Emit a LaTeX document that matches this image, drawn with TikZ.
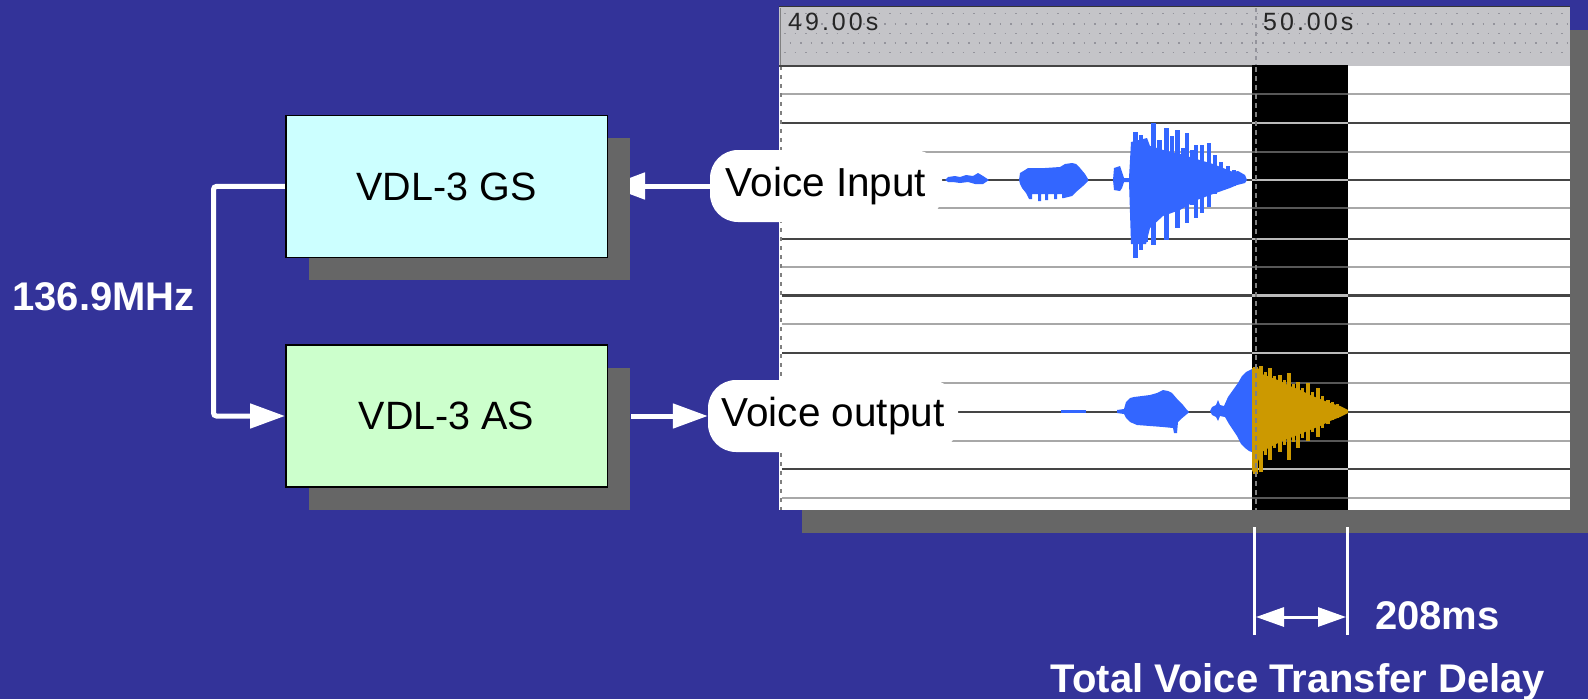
\documentclass[tikz,border=0pt]{standalone}
\usepackage{fontspec}
\setmainfont{Liberation Sans}
\usetikzlibrary{arrows.meta,shadows}
\definecolor{bgblue}{HTML}{333399}
\definecolor{shgray}{HTML}{666666}
\definecolor{gsfill}{HTML}{CCFFFF}
\definecolor{asfill}{HTML}{CCFFCC}
\definecolor{hdrgray}{HTML}{C4C4C8}
\definecolor{hdrdot}{HTML}{94949C}
\definecolor{wblue}{HTML}{3366FF}
\definecolor{worange}{HTML}{CC9900}
\definecolor{ldark}{HTML}{454545}
\definecolor{llight}{HTML}{A8A8A8}
\definecolor{idark}{HTML}{BABABA}
\definecolor{ilight}{HTML}{575757}
\pgfdeclarelayer{bg}
\pgfsetlayers{bg,main}
\tikzset{
  blk/.style={draw=black, line width=1.5pt, minimum width=321.5pt, minimum height=142pt,
    inner sep=0pt, font=\fontsize{39.5}{45}\selectfont,
    general shadow={fill=shgray, shadow xshift=23pt, shadow yshift=-23pt}},
  pill/.style={fill=white, rounded corners=28pt, minimum height=72pt, inner sep=0pt,
    font=\fontsize{40.5}{45}\selectfont},
  wline/.style={draw=white, line width=5pt},
  bighead/.style={-{Triangle[length=35pt,width=24pt]}},
  lbl/.style={text=white, inner sep=0pt, font=\fontsize{40}{45}\selectfont\bfseries},
  tick/.style={inner sep=0pt, text=black!85, font=\fontsize{25}{28}\selectfont\addfontfeatures{LetterSpace=12}},
  dim/.style={draw=white, line width=3pt},
  hdots/.style={draw=hdrdot, line width=1.5pt, dash pattern=on 1.5pt off 9pt},
}
\begin{document}
\begin{tikzpicture}[x=1pt,y=-1pt]
\useasboundingbox (0,0) rectangle (1588,699);

% ---------- screenshot panel ----------
\fill[shgray] (802,30) rectangle (1588,533);
\fill[white] (779,66) rectangle (1570,510);
\fill[hdrgray] (779,7) rectangle (1570,66);
\foreach \yy/\ph in {13.5/0,24/5,33.5/0,43/5,52.5/0}
  \draw[hdots, dash phase=\ph] (784,\yy) -- (1570,\yy);
\draw[black!80, line width=1.5pt] (779,6.5) -- (1570,6.5);
\draw[hdrdot, line width=1.5pt, dash pattern=on 4pt off 4pt] (1256,8) -- (1256,65);
\draw[gray, line width=2pt, dash pattern=on 4pt off 5pt] (780.5,66) -- (780.5,510);
\draw[gray, line width=1.5pt] (780.5,8) -- (780.5,65);

\foreach \yy in {94.3,151.5,208.3,266.7,324,383,440.5,498.3}
  \draw[llight, line width=2pt] (782,\yy) -- (1570,\yy);
\foreach \yy in {122.7,180,238.5,352.7,412,469}
  \draw[ldark, line width=2pt] (782,\yy) -- (1570,\yy);
\draw[ldark, line width=3pt] (782,295) -- (1570,295);
\draw[ldark, line width=2pt] (779,66) -- (1252,66);

% selection bar
\fill[black] (1252,65) rectangle (1348,510);
\foreach \yy in {94.3,151.5,208.3,266.7,324,383,440.5,498.3}
  \draw[ilight, line width=2pt] (1252,\yy) -- (1348,\yy);
\foreach \yy in {122.7,180,238.5,352.7,412,469}
  \draw[idark, line width=2pt] (1252,\yy) -- (1348,\yy);
\draw[idark, line width=3pt] (1252,295) -- (1348,295);

% track 1 waveform
\fill[wblue] (945,180) -- (948,177) -- (955,176) -- (960,177) -- (966,175) -- (973,176) -- (978,173)
  -- (983,176) -- (989,180) -- (983,184) -- (975,184) -- (968,182) -- (960,183) -- (953,182) -- (948,182) -- cycle;
\fill[wblue] (1019,180) -- (1020,173) -- (1025,170) -- (1028,168) -- (1045,168) -- (1060,167) -- (1065,164)
  -- (1072,163) -- (1076,164) -- (1080,168) -- (1085,174) -- (1088,179) -- (1088,181) -- (1083,186)
  -- (1076,192) -- (1072,196) -- (1064,198) -- (1062,198) -- (1062,194) -- (1057,194) -- (1057,199)
  -- (1054,199) -- (1054,194) -- (1048,194) -- (1048,200) -- (1045,200) -- (1045,194) -- (1041,194)
  -- (1041,201) -- (1038,201) -- (1038,194) -- (1032,194) -- (1032,199) -- (1029,199) -- (1026,193)
  -- (1022,188) -- (1020,184) -- cycle;
\fill[wblue] (1113,180) -- (1114,168) -- (1120,166) -- (1122,172) -- (1124,178) -- (1129,178) -- (1131,142)
  -- (1147,138) -- (1150,146) -- (1157,148) -- (1163,150) -- (1180,154) -- (1193,158) -- (1213,164)
  -- (1223,168) -- (1233,172) -- (1238,171) -- (1245,175) -- (1247,180) -- (1245,183) -- (1237,185)
  -- (1230,188) -- (1213,194) -- (1197,200) -- (1180,210) -- (1163,216) -- (1150,228) -- (1146,244)
  -- (1131,244) -- (1129,182) -- (1124,182) -- (1122,188) -- (1120,191) -- (1114,190) -- cycle;
\foreach \xa/\ya/\xb/\yb in {1133/132/1138/258, 1139/135/1143/250, 1144/140/1148/242, 1151/123/1156/245,
  1157/140/1162/215, 1164/128/1169/240, 1170/136/1174/212, 1175/130/1180/228, 1181/148/1185/206,
  1185/133/1189/223, 1190/150/1194/205, 1194/145/1198/218, 1200/145/1204/213, 1207/143/1211/207,
  1213/155/1217/194, 1219/162/1223/190, 1226/166/1230/188, 1232/170/1236/186}
  \fill[wblue] (\xa,\ya) rectangle (\xb,\yb);

% track 2 waveform
\fill[wblue] (1061,409.5) rectangle (1086,412.5);
\fill[wblue] (1117,410) -- (1124,409) -- (1126,402) -- (1130,398) -- (1134,397) -- (1150,395) -- (1157,393)
  -- (1163,390) -- (1168,391) -- (1172,393) -- (1178,400) -- (1183,405) -- (1187,410) -- (1189,412)
  -- (1187,414) -- (1181,419) -- (1178,422) -- (1177,433) -- (1174,433) -- (1173,428) -- (1163,427)
  -- (1150,426) -- (1137,425) -- (1130,422) -- (1126,418) -- (1124,414) -- (1117,413) -- cycle;
\fill[wblue] (1210,411) -- (1212,407) -- (1216,405) -- (1218,400) -- (1220,405) -- (1224,406) -- (1228,397)
  -- (1233,390) -- (1238,383) -- (1242,376) -- (1246,372) -- (1250,370) -- (1252,369) -- (1252,452)
  -- (1249,451) -- (1245,448) -- (1241,444) -- (1237,436) -- (1233,430) -- (1229,424) -- (1225,417)
  -- (1220,416) -- (1218,421) -- (1216,417) -- (1212,415) -- cycle;
\fill[worange] (1252,368) -- (1258,368) -- (1262,374) -- (1270,377) -- (1280,381) -- (1290,386) -- (1300,390)
  -- (1310,395) -- (1320,399) -- (1330,403) -- (1340,406) -- (1348,410) -- (1348,413) -- (1340,417)
  -- (1330,421) -- (1320,426) -- (1310,430) -- (1300,434) -- (1290,438) -- (1280,442) -- (1270,447)
  -- (1262,452) -- (1256,466) -- (1252,472) -- cycle;
\foreach \xa/\ya/\xb/\yb in {1253/367/1258/474, 1259/366/1263/472, 1264/372/1267/455, 1268/368/1272/460,
  1273/376/1276/448, 1278/375/1282/452, 1283/380/1286/445, 1287/373/1291/460, 1292/384/1295/442,
  1296/382/1300/448, 1301/388/1304/438, 1306/383/1310/441, 1311/392/1314/432, 1316/388/1320/437,
  1321/396/1324/428, 1326/400/1330/424, 1331/402/1334/420, 1336/404/1339/418}
  \fill[worange] (\xa,\ya) rectangle (\xb,\yb);
\draw[gray, line width=1.5pt, dash pattern=on 5pt off 4pt] (1256,67) -- (1256,510);

% time ticks
\node[tick, anchor=base west] (t49) at (788,30.7) {49.00s};
\node[tick, anchor=base west] (t50) at (1263,30.7) {50.00s};

% ---------- labels in pills ----------
\node[pill, minimum width=232pt] (vin) at (826,186) {Voice Input};
\node[pill, minimum width=250pt] (vout) at (833,416) {Voice output};

% ---------- blocks ----------
\node[blk, fill=gsfill] (gs) at (446.5,186.4) {VDL-3 GS};
\node[blk, fill=asfill] (as) at (446.5,416) {VDL-3 AS};

% ---------- texts ----------
\node[lbl, anchor=base] (freq) at (103.5,310) {136.9MHz};
\node[lbl, anchor=base west] (ms) at (1375,629) {208ms};
\node[lbl, anchor=base] (tvtd) at (1298,692) {Total Voice Transfer Delay};

% ---------- delay dimension ----------
\coordinate (m1a) at (1254.5,527);
\coordinate (m1b) at (1254.5,635);
\coordinate (m2a) at (1347.5,527);
\coordinate (m2b) at (1347.5,635);
\draw[dim] (m1a) -- (m1b);
\draw[dim] (m2a) -- (m2b);
\coordinate (dl) at (1256,617);
\coordinate (dr) at (1346,617);
\draw[dim, {Triangle[length=28pt,width=19pt]}-{Triangle[length=28pt,width=19pt]}] (dl) -- (dr);

% ---------- background and connectors ----------
\begin{pgfonlayer}{bg}
\fill[bgblue] (0,0) rectangle (1588,699);
\draw[wline, -{Triangle[length=37pt,width=26pt]}] (vin.west) -- (gs.east |- vin.west);
\draw[wline, bighead] ([xshift=23pt]as.east) -- (vout.west);
\draw[wline, rounded corners=3pt, bighead] (gs.west) -- ++(-71.5,0) |- (as.west);
\end{pgfonlayer}
\end{tikzpicture}
\end{document}
